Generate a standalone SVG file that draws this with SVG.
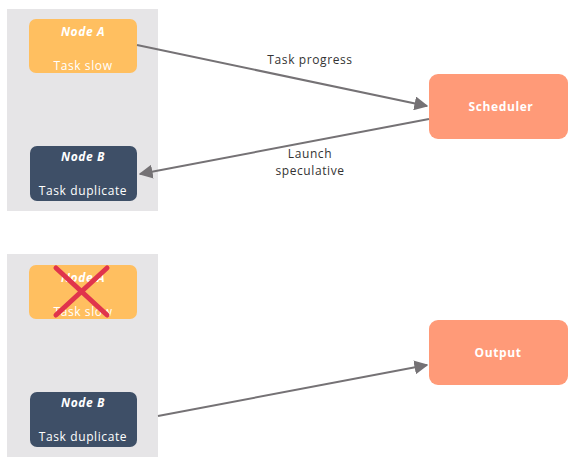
<svg xmlns="http://www.w3.org/2000/svg" width="581" height="460" viewBox="0 0 581 460">
<defs>
<style>
.panel{fill:#e6e5e7}
.na{fill:#ffbf60}
.nb{fill:#3e4f67}
.ns{fill:#ff9a78}
.t{font-family:"Open Sans","Liberation Sans",sans-serif;font-size:12px;letter-spacing:0.6px;fill:#ffffff;text-anchor:middle}
.ti{font-weight:bold;font-style:italic}
.tb{font-weight:bold}
.lbl{font-family:"Open Sans","Liberation Sans",sans-serif;font-size:12px;letter-spacing:0.6px;fill:#333333;text-anchor:middle}
.edge{stroke:#757275;stroke-width:2;fill:none;marker-end:url(#ah)}
.x{stroke:#e0344c;stroke-width:5;stroke-linecap:round}
</style>
<marker id="ah" viewBox="0 0 10 10" refX="9" refY="5" markerWidth="7" markerHeight="7" orient="auto" markerUnits="strokeWidth">
<path d="M0,0 L10,5 L0,10 z" fill="#757275"/>
</marker>
</defs>
<rect width="581" height="460" fill="#ffffff"/>
<rect class="panel" x="7" y="9" width="151" height="202"/>
<rect class="panel" x="7" y="254" width="151" height="203"/>
<g id="nodeA1"><rect class="na" x="29" y="19" width="108" height="54" rx="7"/><text class="t ti" x="83" y="36">Node A</text><text class="t" x="83" y="70">Task slow</text></g>
<g id="nodeB1"><rect class="nb" x="30" y="146" width="107" height="55" rx="7"/><text class="t ti" x="83" y="161">Node B</text><text class="t" x="83" y="195">Task duplicate</text></g>
<g id="scheduler"><rect class="ns" x="429" y="74" width="139" height="65" rx="9"/><text class="t tb" x="501" y="111">Scheduler</text></g>
<g id="nodeA2"><rect class="na" x="29" y="265" width="108" height="54" rx="7"/><text class="t ti" x="83" y="282">Node A</text><text class="t" x="83" y="316">Task slow</text>
<line class="x" x1="56" y1="268" x2="107" y2="315"/><line class="x" x1="107" y1="268" x2="56" y2="315"/></g>
<g id="nodeB2"><rect class="nb" x="30" y="392" width="107" height="55" rx="7"/><text class="t ti" x="83" y="407">Node B</text><text class="t" x="83" y="441">Task duplicate</text></g>
<g id="output"><rect class="ns" x="429" y="320" width="139" height="65" rx="9"/><text class="t tb" x="498" y="357">Output</text></g>
<g id="connectors">
<line class="edge" x1="137" y1="45" x2="427" y2="106"/>
<line class="edge" x1="429" y1="119" x2="140" y2="174"/>
<line class="edge" x1="158" y1="416" x2="427" y2="365"/>
<text class="lbl" x="310" y="64">Task progress</text>
<text class="lbl" x="310" y="158">Launch</text>
<text class="lbl" x="310" y="175">speculative</text>
</g>
</svg>
